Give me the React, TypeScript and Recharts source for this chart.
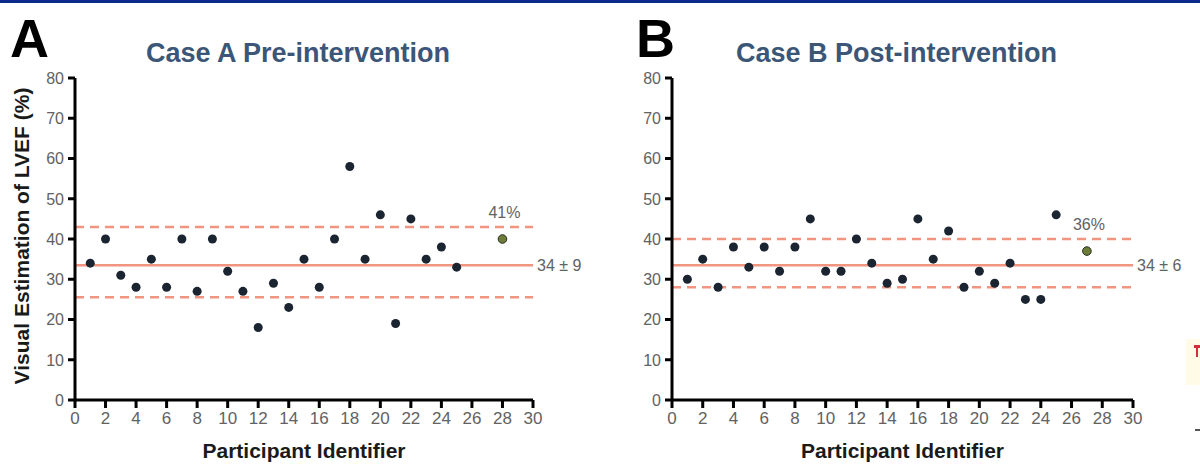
import { ScatterChart, Scatter, XAxis, YAxis, ReferenceLine } from 'recharts';

// participant ids + visual LVEF estimates (%)
const idsA = [1, 2, 3, 4, 5, 6, 7, 8, 9, 10, 11, 12, 13, 14, 15, 16, 17, 18, 19, 20, 21, 22, 23, 24, 25];
const lvefA = [34, 40, 31, 28, 35, 28, 40, 27, 40, 32, 27, 18, 29, 23, 35, 28, 40, 58, 35, 46, 19, 45, 35, 38, 33];
const idsB = [1, 2, 3, 4, 5, 6, 7, 8, 9, 10, 11, 12, 13, 14, 15, 16, 17, 18, 19, 20, 21, 22, 23, 24, 25];
const lvefB = [30, 35, 28, 38, 33, 38, 32, 38, 45, 32, 32, 40, 34, 29, 30, 45, 35, 42, 28, 32, 29, 34, 25, 25, 46];

// highlighted (reference) reading for each case
const highlightA = { x: 28, y: 40, label: '41%' };
const highlightB = { x: 27, y: 37, label: '36%' };

// mean and limits
const statsA = { mean: 33.5, upper: 43, lower: 25.5, label: '34 ± 9' };
const statsB = { mean: 33.5, upper: 40, lower: 28, label: '34 ± 6' };

const X_TICKS = [0, 2, 4, 6, 8, 10, 12, 14, 16, 18, 20, 22, 24, 26, 28, 30];
const Y_TICKS = [0, 10, 20, 30, 40, 50, 60, 70, 80];

const FONT = '"Liberation Sans", Arial, sans-serif';
const SALMON = '#f29580';
const TICK_GRAY = '#626262';

// tick marks drawn by hand so they can be thick and black
const xTick = (p: any) => (
  <g>
    <line x1={p.x} x2={p.x} y1={p.y} y2={p.y + 8} stroke="#000" strokeWidth={3} />
    <text x={p.x} y={p.y + 11} dy="0.75em" textAnchor="middle" fontFamily={FONT} fontSize={17} fill={TICK_GRAY}>
      {p.payload.value}
    </text>
  </g>
);

const yTick = (p: any) => (
  <g>
    <line x1={p.x - 7} x2={p.x} y1={p.y} y2={p.y} stroke="#000" strokeWidth={3} />
    <text x={p.x - 11} y={p.y} dy="0.36em" textAnchor="end" fontFamily={FONT} fontSize={16} fill={TICK_GRAY}>
      {p.payload.value}
    </text>
  </g>
);

const dot = (p: any) => <circle cx={p.cx} cy={p.cy} r={4.5} fill="#1b2431" />;

const highlightDot = (p: any) => (
  <g>
    <circle cx={p.cx} cy={p.cy} r={4.3} fill="#6e7c3a" stroke="#26301c" strokeWidth={1} />
    <text
      x={p.cx + 2}
      y={p.cy - 21}
      textAnchor="middle"
      fontFamily={FONT}
      fontSize={16}
      fill={TICK_GRAY}
    >
      {p.payload.label}
    </text>
  </g>
);

interface PanelProps {
  left: number;
  letter: string;
  title: string;
  ids: number[];
  values: number[];
  hl: { x: number; y: number; label: string };
  stats: { mean: number; upper: number; lower: number; label: string };
  yLabel?: string;
  yAxisWidth: number;
}

function Panel({ left, letter, title, ids, values, hl, stats, yLabel, yAxisWidth }: PanelProps) {
  const data = ids.map((id, i) => ({ x: id, y: values[i] }));
  const plotW = 600 - yAxisWidth - 67;
  const titleCenter = yAxisWidth + plotW / 2 - 6;

  return (
    <div style={{ position: 'absolute', left, top: 0, width: 600, height: 464 }}>
      <div style={{
        position: 'absolute', left: letter === 'A' ? 10 : 36, top: 8,
        fontFamily: FONT, fontWeight: 700, fontSize: 54, lineHeight: '60px', color: '#000',
      }}>
        {letter}
      </div>
      <div style={{
        position: 'absolute', left: titleCenter - 250, width: 500, top: 37, textAlign: 'center',
        fontFamily: FONT, fontWeight: 700, fontSize: 27, lineHeight: '32px', color: '#3b5677',
      }}>
        {title}
      </div>
      <ScatterChart width={600} height={464} margin={{ top: 78, right: 67, bottom: 4, left: 0 }}>
        <XAxis
          type="number"
          dataKey="x"
          domain={[0, 30]}
          ticks={X_TICKS}
          interval={0}
          height={60}
          axisLine={false}
          tickLine={false}
          tickSize={0}
          tickMargin={0}
          tick={xTick}
          label={{
            content: (p: any) => (
              <text
                x={p.viewBox.x + p.viewBox.width / 2}
                y={458}
                textAnchor="middle"
                fontFamily={FONT}
                fontWeight={700}
                fontSize={21}
                fill="#1a1a1a"
              >
                Participant Identifier
              </text>
            ),
          }}
        />
        <YAxis
          type="number"
          dataKey="y"
          domain={[0, 80]}
          ticks={Y_TICKS}
          interval={0}
          width={yAxisWidth}
          axisLine={false}
          tickLine={false}
          tickSize={0}
          tickMargin={0}
          tick={yTick}
          label={yLabel ? {
            content: () => (
              <text
                x={29}
                y={236}
                transform="rotate(-90 29 236)"
                textAnchor="middle"
                fontFamily={FONT}
                fontWeight={700}
                fontSize={21}
                fill="#1a1a1a"
              >
                {yLabel}
              </text>
            ),
          } : undefined}
        />
        <ReferenceLine y={stats.upper} stroke={SALMON} strokeWidth={2.5} strokeDasharray="9 6" />
        <ReferenceLine y={stats.lower} stroke={SALMON} strokeWidth={2.5} strokeDasharray="9 6" />
        <ReferenceLine
          y={stats.mean}
          stroke={SALMON}
          strokeWidth={2.5}
          label={{ value: stats.label, position: 'right', offset: 4, fill: TICK_GRAY, fontSize: 16, fontFamily: FONT }}
        />
        {/* axes */}
        <ReferenceLine x={0} stroke="#000" strokeWidth={3} />
        <ReferenceLine y={0} stroke="#000" strokeWidth={3} />
        <Scatter data={data} shape={dot} isAnimationActive={false} />
        <Scatter data={[hl]} shape={highlightDot} isAnimationActive={false} />
      </ScatterChart>
    </div>
  );
}

export default function App() {
  return (
    <div style={{ position: 'absolute', left: 0, top: 0, width: 1200, height: 464, background: '#fff', overflow: 'hidden' }}>
      <div style={{ position: 'absolute', left: 0, top: 0, width: 1200, height: 3, background: '#0c2a8c' }} />
      <Panel
        left={0}
        letter="A"
        title="Case A Pre-intervention"
        ids={idsA}
        values={lvefA}
        hl={highlightA}
        stats={statsA}
        yLabel="Visual Estimation of LVEF (%)"
        yAxisWidth={75}
      />
      <Panel
        left={600}
        letter="B"
        title="Case B Post-intervention"
        ids={idsB}
        values={lvefB}
        hl={highlightB}
        stats={statsB}
        yAxisWidth={72}
      />
      {/* crop leftovers on the right edge */}
      <div style={{ position: 'absolute', left: 1186, top: 339, width: 14, height: 46, background: '#fffbe6' }}>
        <div style={{ marginTop: 6, marginLeft: 8, width: 6, height: 3, background: '#d0303a' }} />
        <div style={{ marginLeft: 10, width: 2, height: 9, background: '#d0303a' }} />
      </div>
      <div style={{ position: 'absolute', left: 1195, top: 429, width: 5, height: 2, background: '#555' }} />
    </div>
  );
}
